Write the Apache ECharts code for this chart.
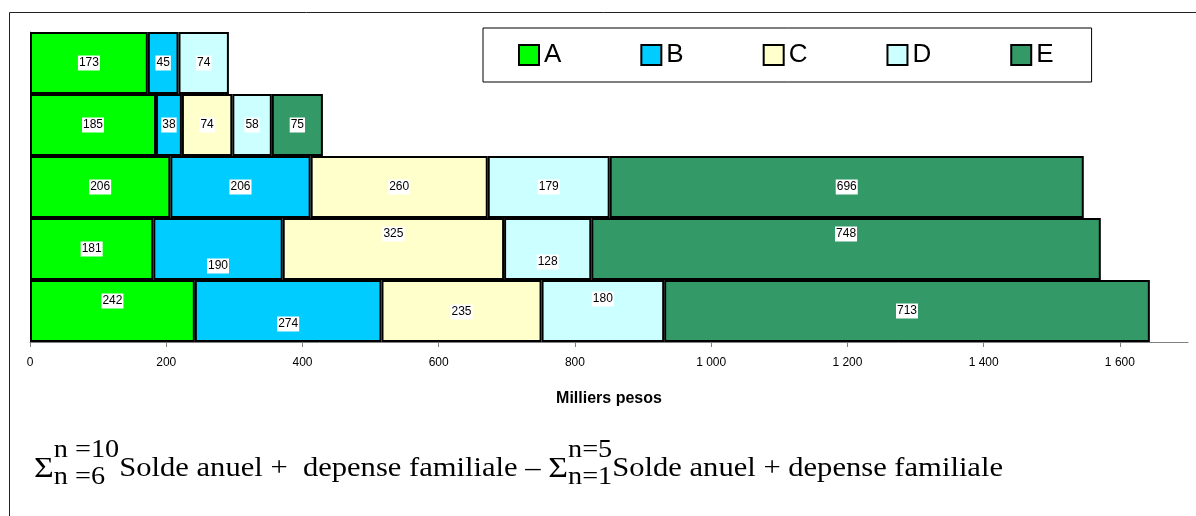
<!DOCTYPE html>
<html>
<head>
<meta charset="utf-8">
<title>Milliers pesos</title>
<script src="https://cdn.jsdelivr.net/npm/echarts@6/dist/echarts.min.js"></script>
<style>
  html, body { margin: 0; padding: 0; background: #fff; }
  #chart { width: 1196px; height: 516px; }
</style>
</head>
<body>
<div id="chart"></div>
<script>
// rows, top to bottom
var categories = ['r1', 'r2', 'r3', 'r4', 'r5'];
var seriesNames = ['A', 'B', 'C', 'D', 'E'];
var valuesA = [173, 185, 206, 181, 242];
var valuesB = [45, 38, 206, 190, 274];
var valuesC = [null, 74, 260, 325, 235];
var valuesD = [74, 58, 179, 128, 180];
var valuesE = [null, 75, 696, 748, 713];
var tickValues = [0, 200, 400, 600, 800, 1000, 1200, 1400, 1600];

var colors = ['#00FF00', '#00CCFF', '#FFFFCC', '#CCFFFF', '#339966'];
// vertical shift of the value labels (px), per row then per series
var labelShift = [
  [0, 0, 0, 0, 0],
  [0, 0, 0, 0, 0],
  [0, 0, 0, 0, 0],
  [0, 17, -15, 13, -15],
  [-10, 13, 1, -12, 0]
];

var allValues = [valuesA, valuesB, valuesC, valuesD, valuesE];

function thousands(v) {
  return String(v).replace(/\B(?=(\d{3})+(?!\d))/g, ' ');
}

var series = seriesNames.map(function (name, s) {
  return {
    name: name,
    type: 'bar',
    stack: 'total',
    barCategoryGap: '0%',
    itemStyle: { color: colors[s], borderColor: '#000', borderWidth: 2 },
    label: {
      show: true,
      position: 'inside',
      color: '#000',
      fontFamily: 'Arial, "Liberation Sans", sans-serif',
      fontSize: 12,
      backgroundColor: '#fff',
      padding: [2, 1, 1, 1]
    },
    data: allValues[s].map(function (v, i) {
      return { value: v === null ? '-' : v, label: { offset: [0, labelShift[i][s]] } };
    })
  };
});

// formula under the chart, laid out with measured text widths
var serif = '"Liberation Serif", "Times New Roman", serif';
var ctx = document.createElement('canvas').getContext('2d');
function textW(t, size) {
  ctx.font = size + 'px ' + serif;
  return ctx.measureText(t).width;
}
var formula = [];
var cx = 0;
var mainSize = 27, subSize = 25, sigmaSize = 30;
function addText(t, size, y) {
  formula.push({
    type: 'text', x: cx, y: y,
    style: { text: t, font: size + 'px ' + serif, fill: '#000', verticalAlign: 'middle' }
  });
}
function addSum(sup, sub) {
  addText('\u03A3', sigmaSize, 1);
  cx += textW('\u03A3', sigmaSize);
  addText(sup, subSize, -18);
  addText(sub, subSize, 9);
  cx += Math.max(textW(sup, subSize), textW(sub, subSize));
}
addSum('n =10', 'n =6');
addText('Solde anuel +  depense familiale \u2013 ', mainSize, 1);
cx += textW('Solde anuel +  depense familiale \u2013 ', mainSize);
addSum('n=5', 'n=1');
addText('Solde anuel + depense familiale', mainSize, 1);
cx += textW('Solde anuel + depense familiale', mainSize);
var formulaLeft = 34, formulaRight = 1003;
var formulaScale = (formulaRight - formulaLeft) / cx;

var chart = echarts.init(document.getElementById('chart'));
chart.setOption({
  animation: false,
  backgroundColor: '#fff',
  textStyle: { fontFamily: 'Arial, "Liberation Sans", sans-serif' },
  legend: {
    data: seriesNames,
    left: 483,
    top: 28,
    orient: 'horizontal',
    icon: 'rect',
    itemWidth: 20,
    itemHeight: 20,
    itemGap: 79,
    padding: [14, 38, 14, 35],
    borderColor: '#000',
    borderWidth: 1,
    backgroundColor: '#fff',
    itemStyle: { borderColor: '#000', borderWidth: 2 },
    textStyle: { fontSize: 26, color: '#000' }
  },
  grid: {
    left: 30,
    right: 8,
    top: 32,
    bottom: 174,
    containLabel: false,
    outerBoundsMode: 'none'
  },
  xAxis: {
    type: 'value',
    min: 0,
    max: 1700,
    interval: 200,
    name: 'Milliers pesos',
    nameLocation: 'middle',
    nameGap: 49,
    nameTextStyle: { fontSize: 16, fontWeight: 'bold', color: '#000' },
    axisLine: { show: true, lineStyle: { color: '#808080', width: 1 } },
    axisTick: { show: true, length: 5, customValues: tickValues, lineStyle: { color: '#808080' } },
    axisLabel: {
      customValues: tickValues,
      margin: 15,
      fontSize: 12,
      color: '#000',
      formatter: thousands
    },
    splitLine: { show: false }
  },
  yAxis: {
    type: 'category',
    inverse: true,
    data: categories,
    axisLine: { show: true, lineStyle: { color: '#808080' } },
    axisTick: { show: false },
    axisLabel: { show: false },
    splitLine: { show: false }
  },
  series: series,
  graphic: [
    {
      type: 'rect',
      z: -10,
      silent: true,
      shape: { x: 9.5, y: 12.5, width: 1400, height: 700 },
      style: { fill: 'none', stroke: '#222', lineWidth: 1 }
    },
    {
      type: 'group',
      x: formulaLeft,
      y: 468,
      scaleX: formulaScale,
      children: formula
    }
  ]
});
</script>
</body>
</html>
